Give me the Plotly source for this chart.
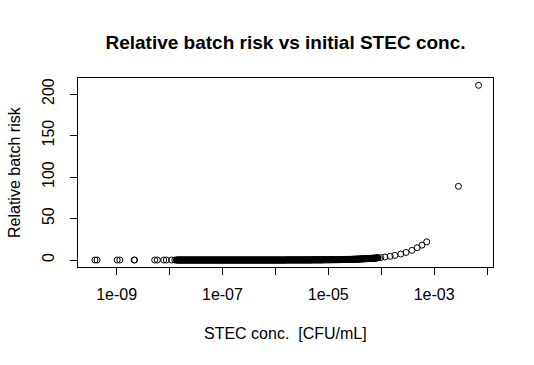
import plotly.graph_objects as go

# log10 of STEC concentration (CFU/mL), with relative batch risk
left_exp = [-9.41, -9.37, -8.99, -8.94, -8.67, -8.66, -8.28, -8.23, -8.11, -8.06, -7.96, -7.90]
left_risk = [0.0] * 12

# dense band of points (log10 conc, in hundredths)
dense_exp_h = [
    -787, -786, -785, -784, -783, -782, -781, -780, -779, -778, -777, -776, -775, -774, -773, -772, -771, -770, -769, -768,
    -767, -766, -765, -764, -763, -762, -761, -760, -759, -758, -757, -756, -755, -754, -753, -752, -751, -750, -749, -748,
    -747, -746, -745, -744, -743, -742, -741, -740, -739, -738, -737, -736, -735, -734, -733, -732, -731, -730, -729, -728,
    -727, -726, -725, -724, -723, -722, -721, -720, -719, -718, -717, -716, -715, -714, -713, -712, -711, -710, -709, -708,
    -707, -706, -705, -704, -703, -702, -701, -700, -699, -698, -697, -696, -695, -694, -693, -692, -691, -690, -689, -688,
    -687, -686, -685, -684, -683, -682, -681, -680, -679, -678, -677, -676, -675, -674, -673, -672, -671, -670, -669, -668,
    -667, -666, -665, -664, -663, -662, -661, -660, -659, -658, -657, -656, -655, -654, -653, -652, -651, -650, -649, -648,
    -647, -646, -645, -644, -643, -642, -641, -640, -639, -638, -637, -636, -635, -634, -633, -632, -631, -630, -629, -628,
    -627, -626, -625, -624, -623, -622, -621, -620, -619, -618, -617, -616, -615, -614, -613, -612, -611, -610, -609, -608,
    -607, -606, -605, -604, -603, -602, -601, -600, -599, -598, -597, -596, -595, -594, -593, -592, -591, -590, -589, -588,
    -587, -586, -585, -584, -583, -582, -581, -580, -579, -578, -577, -576, -575, -574, -573, -572, -571, -570, -569, -568,
    -567, -566, -565, -564, -563, -562, -561, -560, -559, -558, -557, -556, -555, -554, -553, -552, -551, -550, -549, -548,
    -547, -546, -545, -544, -543, -542, -541, -540, -539, -538, -537, -536, -535, -534, -533, -532, -531, -530, -529, -528,
    -527, -526, -525, -524, -523, -522, -521, -520, -519, -518, -517, -516, -515, -514, -513, -512, -511, -510, -509, -508,
    -507, -506, -505, -504, -503, -502, -501, -500, -499, -498, -497, -496, -495, -494, -493, -492, -491, -490, -489, -488,
    -487, -486, -485, -484, -483, -482, -481, -480, -479, -478, -477, -476, -475, -474, -473, -472, -471, -470, -469, -468,
    -467, -466, -465, -464, -463, -462, -461, -460, -459, -458, -457, -456, -455, -454, -453, -452, -451, -450, -449, -448,
    -447, -446, -445, -444, -443, -442, -441, -440, -439, -438, -437, -436, -435, -434, -433, -432, -431, -430, -429, -428,
    -427, -426, -425, -424, -423, -422, -421, -420, -419, -418, -417, -416, -415, -414, -413, -412, -411, -410, -409, -408,
    -407, -406,
]
dense_risk = (
    [0.0] * 208 + [0.1] * 48 + [0.2] * 22 + [0.3] * 15 + [0.4] * 11 + [0.5] * 9
    + [0.6] * 7 + [0.7] * 6 + [0.8] * 6 + [0.9] * 4 + [1.0] * 5 + [1.1] * 4
    + [1.2] * 3 + [1.3] * 4 + [1.4] * 3 + [1.5] * 3 + [1.6] * 2 + [1.7] * 3
    + [1.8] * 2 + [1.9] * 3 + [2.0] * 2 + [2.1] * 2 + [2.2] * 2 + [2.3] * 2
    + [2.4] * 2 + [2.5] * 1 + [2.6] * 2 + [2.7] * 1
)

right_exp = [-4.01, -3.93, -3.83, -3.74, -3.63, -3.53, -3.42, -3.32, -3.23, -3.14, -2.54, -2.16]
right_risk = [2.9, 3.6, 4.5, 5.6, 7.2, 9.1, 11.6, 14.8, 17.9, 21.9, 88.8, 210.5]

x_tick_vals = [1e-9, 1e-8, 1e-7, 1e-6, 1e-5, 1e-4, 1e-3, 1e-2]
x_tick_text = ["1e-09", "", "1e-07", "", "1e-05", "", "1e-03", ""]
y_tick_vals = [0, 50, 100, 150, 200]

exps = left_exp + [h / 100 for h in dense_exp_h] + right_exp
conc = [10 ** e for e in exps]
risk = left_risk + dense_risk + right_risk

FONT = "Arial, Liberation Sans, sans-serif"

fig = go.Figure(
    go.Scatter(
        x=conc, y=risk, mode="markers",
        marker=dict(symbol="circle-open", size=6, color="black", line=dict(width=1, color="black")),
        showlegend=False, hoverinfo="skip",
    )
)

W, H = 534, 365
L, R, T, B = 78, 41, 78, 98

fig.update_layout(
    width=W, height=H,
    margin=dict(l=L, r=R, t=T, b=B),
    paper_bgcolor="white", plot_bgcolor="white",
    font=dict(family=FONT, size=16, color="black"),
    title=dict(
        text="<b>Relative batch risk vs initial STEC conc.</b>",
        font=dict(family=FONT, size=19, color="black"),
        x=(L + (W - L - R) / 2) / W, xanchor="center",
        y=1 - 42 / H, yanchor="middle",
    ),
    xaxis=dict(
        type="log", range=[-9.73, -1.887],
        tickvals=x_tick_vals, ticktext=x_tick_text,
        ticks="outside", ticklen=7, tickwidth=1, tickcolor="black",
        showline=True, mirror=True, linecolor="black", linewidth=1,
        showgrid=False, zeroline=False,
        tickfont=dict(family=FONT, size=16, color="black"),
        ticklabelstandoff=6,
    ),
    yaxis=dict(
        range=[-8.4, 219.3],
        tickvals=y_tick_vals,
        ticks="outside", ticklen=7, tickwidth=1, tickcolor="black",
        showline=True, mirror=True, linecolor="black", linewidth=1,
        showgrid=False, zeroline=False,
        tickangle=-90,
        tickfont=dict(family=FONT, size=16, color="black"),
        ticklabelstandoff=10,
    ),
    annotations=[
        dict(text="STEC conc.  [CFU/mL]", xref="paper", yref="paper",
             x=0.5, y=1 - (333 - T) / (H - T - B), xanchor="center", yanchor="middle",
             showarrow=False, font=dict(family=FONT, size=16, color="black")),
        dict(text="Relative batch risk", xref="paper", yref="paper",
             x=(14 - L) / (W - L - R), y=1 - (172 - T) / (H - T - B),
             xanchor="center", yanchor="middle", textangle=-90,
             showarrow=False, font=dict(family=FONT, size=16, color="black")),
    ],
)

fig.write_html(
    "out.html",
    config={"displayModeBar": False},
    post_script="document.body.style.margin='0';document.body.style.padding='0';",
)
